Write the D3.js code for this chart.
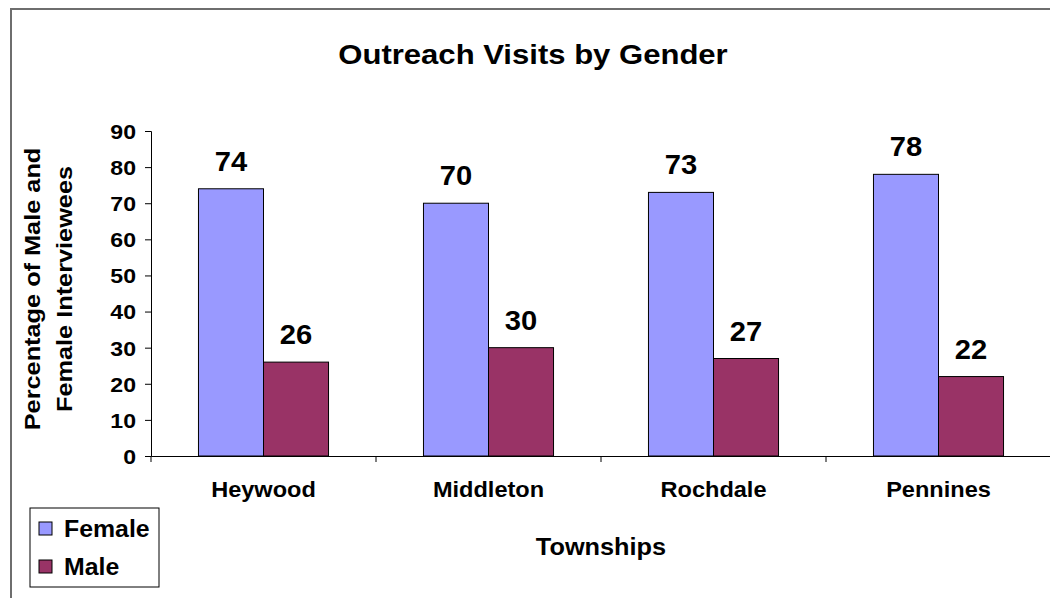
<!DOCTYPE html>
<meta charset="utf-8">
<script src="https://d3js.org/d3.v7.min.js"></script>
<style>
  body { margin: 0; background: #fff; }
  text { font-family: "Liberation Sans", Arial, sans-serif; font-weight: bold; fill: #000; }
</style>
<div id="chart"></div>
<script>

// data
var townships = ["Heywood", "Middleton", "Rochdale", "Pennines"];
var female = [74, 70, 73, 78];
var male = [26, 30, 27, 22];
var series = ["Female", "Male"];
var yTicks = [0, 10, 20, 30, 40, 50, 60, 70, 80, 90];

var W = 1050, H = 598;
var svg = d3.select("#chart").append("svg")
    .attr("width", W)
    .attr("height", H);

// the old chart text is a bit wider than Arial, widen glyphs a little
function stretch(sel, k) {
  sel.each(function() {
    var w = this.getComputedTextLength();
    this.setAttribute("textLength", w * k);
    this.setAttribute("lengthAdjust", "spacingAndGlyphs");
  });
}

// chart frame
svg.append("rect")
    .attr("x", 11).attr("y", 9)
    .attr("width", W + 20).attr("height", H + 20)
    .attr("fill", "#fff")
    .attr("stroke", "#6e6e6e")
    .attr("stroke-width", 2);

// plot area
var plotLeft = 151, plotRight = 1051, plotTop = 131, plotBottom = 456;

var x = d3.scaleBand()
    .domain(townships)
    .range([plotLeft, plotRight]);

var xSub = d3.scaleBand()
    .domain(series)
    .range([0, x.bandwidth()])
    .paddingInner(0)
    .paddingOuter(0.73);

var y = d3.scaleLinear()
    .domain([0, 90])
    .range([plotBottom, plotTop]);

var color = d3.scaleOrdinal()
    .domain(series)
    .range(["#9999ff", "#993366"]);

var rows = townships.map(function(t, i) {
  return {town: t, values: [{key: "Female", value: female[i]}, {key: "Male", value: male[i]}]};
});

// bars
var groups = svg.append("g").selectAll("g")
  .data(rows)
  .enter().append("g")
    .attr("transform", function(d) { return "translate(" + x(d.town) + ",0)"; });

groups.selectAll("rect")
  .data(function(d) { return d.values; })
  .enter().append("rect")
    .attr("x", function(d) { return xSub(d.key); })
    .attr("y", function(d) { return y(d.value); })
    .attr("width", xSub.bandwidth())
    .attr("height", function(d) { return y(0) - y(d.value); })
    .attr("fill", function(d) { return color(d.key); })
    .attr("stroke", "#000")
    .attr("stroke-width", 1);

// value labels
var vals = groups.selectAll("text.val")
  .data(function(d) { return d.values; })
  .enter().append("text")
    .attr("class", "val")
    .attr("x", function(d) { return xSub(d.key) + xSub.bandwidth() / 2; })
    .attr("y", function(d) { return y(d.value) - 18; })
    .attr("text-anchor", "middle")
    .style("font-size", "27px")
    .text(function(d) { return d.value; });
stretch(vals, 1.08);

// y axis
var yAxis = svg.append("g")
    .attr("transform", "translate(" + plotLeft + ",0)")
    .call(d3.axisLeft(y).tickValues(yTicks).tickSize(6).tickPadding(9));
yAxis.selectAll("text").style("font-size", "21px").attr("dy", "0.35em");
stretch(yAxis.selectAll("text"), 1.1);

// x axis
var xAxis = svg.append("g")
    .attr("transform", "translate(0," + plotBottom + ")")
    .call(d3.axisBottom(x).tickSize(0).tickPadding(25));
xAxis.selectAll("text").style("font-size", "22px");
stretch(xAxis.selectAll("text"), 1.07);
xAxis.selectAll(".tick line").remove();
// boundary ticks between categories
xAxis.selectAll("line.sep")
  .data(townships)
  .enter().append("line")
    .attr("class", "sep")
    .attr("x1", function(d) { return x(d); })
    .attr("x2", function(d) { return x(d); })
    .attr("y1", 0).attr("y2", 6)
    .attr("stroke", "#000");

svg.selectAll(".domain").attr("stroke", "#000");

// title
var title = svg.append("text")
    .attr("x", 533).attr("y", 64)
    .attr("text-anchor", "middle")
    .style("font-size", "27px")
    .text("Outreach Visits by Gender");
stretch(title, 1.15);

// axis titles
var yt = svg.append("text")
    .attr("transform", "translate(40,289) rotate(-90)")
    .attr("text-anchor", "middle")
    .style("font-size", "22px");
yt.append("tspan").attr("x", 0).attr("dy", 0).text("Percentage of Male and");
yt.append("tspan").attr("x", 0).attr("dy", 32).text("Female Interviewees");
stretch(yt.selectAll("tspan"), 1.15);

var xt = svg.append("text")
    .attr("x", 601).attr("y", 555)
    .attr("text-anchor", "middle")
    .style("font-size", "23px")
    .text("Townships");
stretch(xt, 1.1);

// legend
var legend = svg.append("g");
legend.append("rect")
    .attr("x", 30).attr("y", 508)
    .attr("width", 129).attr("height", 79)
    .attr("fill", "#fff")
    .attr("stroke", "#000");

var items = legend.selectAll("g.item")
  .data(series)
  .enter().append("g")
    .attr("class", "item")
    .attr("transform", function(d, i) { return "translate(0," + (i * 38) + ")"; });

items.append("rect")
    .attr("x", 39).attr("y", 522)
    .attr("width", 13).attr("height", 13)
    .attr("fill", function(d) { return color(d); })
    .attr("stroke", "#000");

var legText = items.append("text")
    .attr("x", 64).attr("y", 537)
    .style("font-size", "23px")
    .text(function(d) { return d; });
stretch(legText, 1.08);

</script>
